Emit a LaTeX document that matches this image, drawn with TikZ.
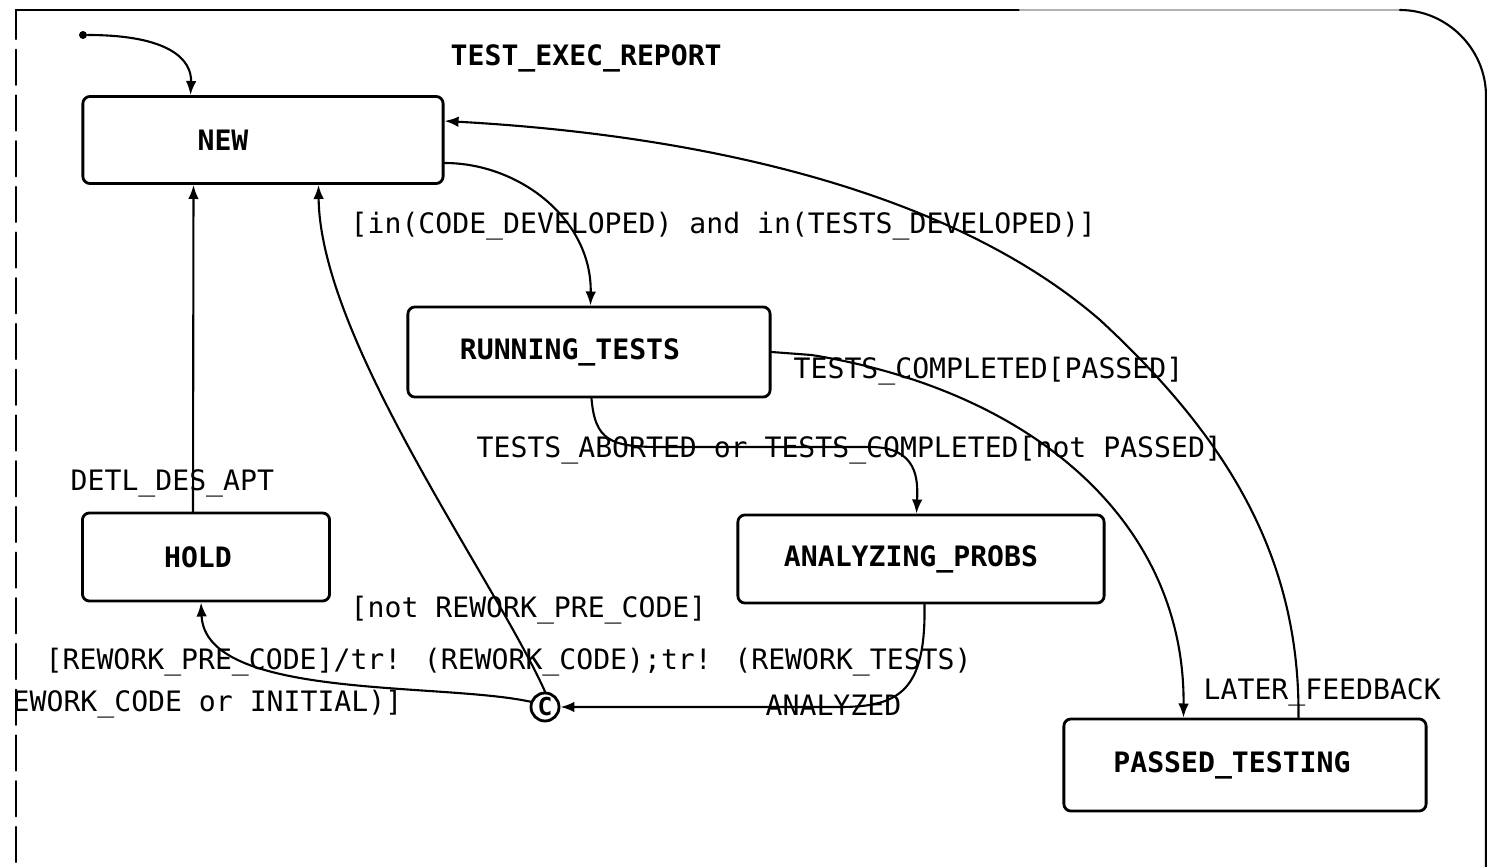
\documentclass[tikz,border=0pt]{standalone}
\usepackage{fontspec}
\newfontfamily\diagfont{DejaVu Sans Mono}
\usetikzlibrary{arrows.meta,calc}

\begin{document}
\begin{tikzpicture}[x=0.01cm,y=-0.01cm,line cap=round,line join=round,
  st/.style={draw,line width=0.8pt,rounded corners=2pt,inner sep=0pt,
    font=\diagfont\bfseries\fontsize{8}{10}\selectfont},
  tr/.style={line width=0.6pt,-{Latex[length=4pt,width=3pt]}},
  lbl/.style={anchor=west,inner sep=0pt,font=\diagfont\fontsize{8}{10}\selectfont}]
  \useasboundingbox (0,0) rectangle (1487,867);
  % frame of the chart
  \draw[line width=0.6pt,dash pattern=on 10pt off 3pt] (16,862) -- (16,10);
  \draw[line width=0.6pt] (16,10) -- (1020,10);
  \draw[line width=0.6pt,black!30] (1020,10) -- (1400,10);
  \draw[line width=0.6pt] (1400,10) .. controls (1447,10) and (1486,49) .. (1486,96) -- (1486,867);
  % states
  \node[st,minimum width=3.60cm,minimum height=0.87cm] (N) at (263,140) {NEW\hspace*{0.8cm}};
  \node[st,minimum width=3.62cm,minimum height=0.90cm] (RT) at (589,352) {RUNNING\_TESTS\hspace*{0.38cm}};
  \node[st,minimum width=3.66cm,minimum height=0.88cm] (AP) at (921,559) {ANALYZING\_PROBS\hspace*{0.2cm}};
  \node[st,minimum width=2.47cm,minimum height=0.88cm] (H) at (206,557) {HOLD\hspace*{0.16cm}};
  \node[st,minimum width=3.62cm,minimum height=0.92cm] (PT) at (1245,765) {PASSED\_TESTING\hspace*{0.26cm}};
  \node[draw,circle,line width=0.8pt,minimum size=0.28cm,inner sep=0pt,
    font=\diagfont\bfseries\fontsize{7}{8}\selectfont] (C) at (545,707) {C};
  \node[fill,circle,inner sep=0pt,minimum size=0.08cm] (I) at (83,35) {};
  % transitions
  \draw[tr] (I) .. controls (170,35) and (192,60) .. ($(N.north west)+(109,0)$);
  \draw[tr] ($(N.east)+(0,23)$) .. controls (520,163) and (592,220) .. ($(RT.north west)+(184,0)$);
  \draw[tr] (RT.east) -- ++(40,3) .. controls (1030,390) and (1185,520) .. ($(PT.north west)+(121,0)$);
  \draw[tr] ($(RT.south west)+(185,0)$) .. controls (595,440) and (610,447) .. (660,447)
    -- (870,447) .. controls (918,447) and (918,480) .. ($(AP.north west)+(180,0)$);
  \draw[tr] ($(AP.south west)+(188,0)$) .. controls (926,690) and (900,707) .. (840,707) -- (C.east);
  \draw[tr] (C.160) .. controls (440,682) and (205,700) .. ($(H.south west)+(120,0)$);
  \draw[tr] (C.north) .. controls (495,580) and (320,340) .. ($(N.south west)+(237,0)$);
  \draw[tr] ($(H.north west)+(112,0)$) -- ($(N.south west)+(112,0)$);
  \draw[tr] ($(PT.north west)+(236,0)$) .. controls (1300,560) and (1230,440) .. (1100,320)
    .. controls (950,190) and (700,135) .. ($(N.east)+(0,-19)$);
  % labels
  \node[lbl,font=\diagfont\bfseries\fontsize{8}{10}\selectfont] (title) at (450,58) {TEST\_EXEC\_REPORT};
  \node[lbl] (lNR) at (350,226) {[in(CODE\_DEVELOPED) and in(TESTS\_DEVELOPED)]};
  \node[lbl] (lRP) at (793,371) {TESTS\_COMPLETED[PASSED]};
  \node[lbl] (lRA) at (476,450) {TESTS\_ABORTED or TESTS\_COMPLETED[not PASSED]};
  \node[lbl] (lAC) at (765,705) {ANALYZED};
  \node[lbl] (lPN) at (1203,692) {LATER\_FEEDBACK};
  \node[lbl] (lHN) at (70,483) {DETL\_DES\_APT};
  \node[lbl] (lCN) at (350,610) {[not REWORK\_PRE\_CODE]};
  \node[lbl] (lCH) at (45,662) {[REWORK\_PRE\_CODE]/tr! (REWORK\_CODE);tr! (REWORK\_TESTS)};
  \node[lbl] (lCH2) at (12,704) {EWORK\_CODE or INITIAL)]};
\end{tikzpicture}
\end{document}
